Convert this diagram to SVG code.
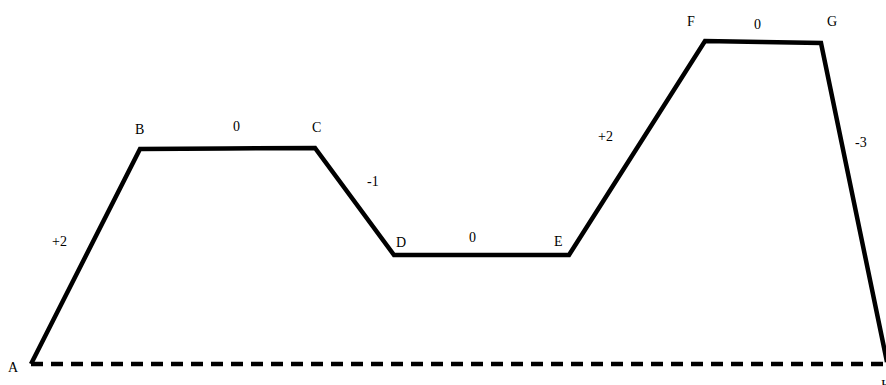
<svg xmlns="http://www.w3.org/2000/svg" width="886" height="385" viewBox="0 0 886 385">
<style>
.lbl{font-family:"Liberation Serif","Times New Roman",serif;font-size:14px;fill:#000}
.solid{fill:none;stroke:#000;stroke-width:4.5;stroke-linejoin:miter;stroke-linecap:butt}
.dash{fill:none;stroke:#000;stroke-width:4.5;stroke-dasharray:12 8}
</style>
<rect width="886" height="385" fill="#fff"/>
<g id="connectors">
<path class="dash" d="M31,364 H886"/>
<path class="solid" d="M31,364 L140,149 L226,148.5 L315,148 L394,255 L569,255 L705,41 L762,42 L821,43 L887,362"/>
</g>
<g id="node-A"><text class="lbl" x="8" y="372">A</text></g>
<g id="node-B"><text class="lbl" x="135" y="134">B</text></g>
<g id="node-C"><text class="lbl" x="312" y="132">C</text></g>
<g id="node-D"><text class="lbl" x="396" y="247">D</text></g>
<g id="node-E"><text class="lbl" x="554" y="246">E</text></g>
<g id="node-F"><text class="lbl" x="687" y="26">F</text></g>
<g id="node-G"><text class="lbl" x="827" y="26">G</text></g>
<g id="node-H"><text class="lbl" x="881" y="390">H</text></g>
<g id="labels">
<text class="lbl" x="52" y="246">+2</text>
<text class="lbl" x="233" y="131">0</text>
<text class="lbl" x="367" y="186">-1</text>
<text class="lbl" x="469" y="242">0</text>
<text class="lbl" x="598" y="141">+2</text>
<text class="lbl" x="754" y="29">0</text>
<text class="lbl" x="855" y="147">-3</text>
</g>
</svg>
